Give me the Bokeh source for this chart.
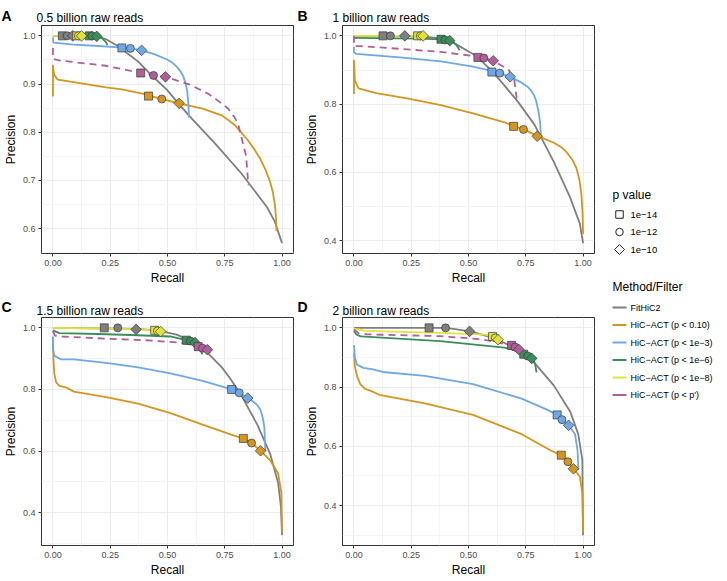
import numpy as np
from bokeh.plotting import figure
from bokeh.layouts import row, column
from bokeh.models import Range1d, FixedTicker, NumeralTickFormatter
from bokeh.embed import file_html
from bokeh.resources import INLINE
from bokeh.core.properties import value

FONT = "Liberation Sans"

# ---------------- labels / ticks ----------------
METHOD_LABELS = ["FitHiC2", "HiC\u2212ACT (p < 0.10)", "HiC\u2212ACT (p < 1e\u22123)",
                 "HiC\u2212ACT (p < 1e\u22126)", "HiC\u2212ACT (p < 1e\u22128)", "HiC\u2212ACT (p < p')"]
PVALUE_LABELS = ["1e\u221214", "1e\u221212", "1e\u221210"]
PANEL_LETTERS = ["A", "B", "C", "D"]
PANEL_TITLES = ["0.5 billion raw reads", "1 billion raw reads", "1.5 billion raw reads", "2 billion raw reads"]
X_TICKS = [0.0, 0.25, 0.5, 0.75, 1.0]
X_MINOR = [0.125, 0.375, 0.625, 0.875]
Y_TICKS_A = [0.6, 0.7, 0.8, 0.9, 1.0]
Y_MINOR_A = [0.55, 0.65, 0.75, 0.85, 0.95]
Y_TICKS_BCD = [0.4, 0.6, 0.8, 1.0]
Y_MINOR_BCD = [0.3, 0.5, 0.7, 0.9]

# ---------------- data: (recall, precision) ----------------
# Panel A
A_FITHIC2 = [(0.0, 1.0), (0.19, 1.0), (0.232, 0.993), (0.287, 0.978), (0.33, 0.962), (0.371, 0.947),
             (0.42, 0.923), (0.498, 0.888), (0.551, 0.858), (0.597, 0.833), (0.709, 0.776), (0.822, 0.715),
             (0.934, 0.645), (0.968, 0.615), (1.0, 0.57)]
A_FITHIC2_PTS = [(0.041, 1.0), (0.062, 1.0), (0.086, 1.0)]
A_P010 = [(0.0, 0.874), (0.0, 0.94), (0.003, 0.925), (0.007, 0.918), (0.021, 0.909), (0.09, 0.904),
          (0.232, 0.893), (0.301, 0.889), (0.40, 0.879), (0.475, 0.869), (0.551, 0.86), (0.653, 0.849),
          (0.737, 0.835), (0.794, 0.815), (0.85, 0.784), (0.88, 0.764), (0.906, 0.744), (0.93, 0.72),
          (0.948, 0.697), (0.96, 0.675), (0.969, 0.649), (0.974, 0.62), (0.976, 0.595)]
A_P010_PTS = [(0.417, 0.875), (0.475, 0.869), (0.551, 0.86)]
A_P1E3 = [(0.0, 0.997), (0.002, 0.986), (0.09, 0.982), (0.20, 0.979), (0.287, 0.976), (0.338, 0.974),
          (0.387, 0.970), (0.442, 0.962), (0.498, 0.951), (0.522, 0.944), (0.54, 0.936), (0.556, 0.927),
          (0.569, 0.916), (0.579, 0.901), (0.586, 0.886), (0.591, 0.86), (0.594, 0.83)]
A_P1E3_PTS = [(0.301, 0.975), (0.338, 0.974), (0.387, 0.970)]
A_P1E6 = [(0.0, 1.0), (0.191, 0.999), (0.215, 0.995), (0.231, 0.987), (0.238, 0.981)]
A_P1E6_PTS = [(0.158, 1.0), (0.17, 1.0), (0.191, 0.999)]
A_P1E8 = [(0.0, 1.0), (0.125, 1.0)]
A_P1E8_PTS = [(0.104, 1.0), (0.111, 1.0), (0.125, 1.0)]
A_PPRIME = [(0.0, 0.975), (0.0, 0.952), (0.027, 0.949), (0.231, 0.938), (0.383, 0.923), (0.439, 0.918),
            (0.491, 0.915), (0.597, 0.899), (0.681, 0.879), (0.73, 0.862), (0.765, 0.849), (0.79, 0.833),
            (0.808, 0.818), (0.822, 0.791), (0.843, 0.751), (0.853, 0.69)]
A_PPRIME_PTS = [(0.383, 0.923), (0.439, 0.918), (0.491, 0.915)]

# Panel B
B_FITHIC2 = [(0.0, 1.0), (0.222, 1.0), (0.309, 0.998), (0.365, 0.993), (0.418, 0.985), (0.46, 0.97),
             (0.52, 0.947), (0.545, 0.935), (0.60, 0.898), (0.65, 0.86), (0.717, 0.806), (0.788, 0.74),
             (0.873, 0.63), (0.944, 0.526), (0.986, 0.45), (1.0, 0.393)]
B_FITHIC2_PTS = [(0.127, 1.0), (0.159, 1.0), (0.222, 1.0)]
B_P010 = [(0.0, 0.83), (0.0, 0.93), (0.004, 0.87), (0.02, 0.846), (0.097, 0.832), (0.238, 0.816),
          (0.379, 0.797), (0.52, 0.773), (0.661, 0.746), (0.697, 0.736), (0.74, 0.726), (0.80, 0.707),
          (0.873, 0.687), (0.905, 0.674), (0.929, 0.659), (0.955, 0.635), (0.972, 0.611), (0.985, 0.575),
          (0.993, 0.535), (0.998, 0.48), (1.0, 0.42)]
B_P010_PTS = [(0.697, 0.735), (0.74, 0.726), (0.80, 0.706)]
B_P1E3 = [(0.0, 0.968), (0.0, 0.952), (0.01, 0.947), (0.2, 0.937), (0.38, 0.925), (0.52, 0.91),
          (0.591, 0.899), (0.636, 0.891), (0.682, 0.88), (0.732, 0.863), (0.758, 0.851), (0.774, 0.839),
          (0.787, 0.825), (0.795, 0.81), (0.805, 0.78), (0.812, 0.75), (0.816, 0.71)]
B_P1E3_PTS = [(0.602, 0.894), (0.636, 0.891), (0.682, 0.88)]
B_P1E6 = [(0.0, 0.994), (0.28, 0.992), (0.38, 0.99), (0.418, 0.987), (0.443, 0.977), (0.455, 0.965),
          (0.461, 0.958)]
B_P1E6_PTS = [(0.38, 0.99), (0.397, 0.988), (0.418, 0.986)]
B_P1E8 = [(0.0, 1.0), (0.302, 1.0)]
B_P1E8_PTS = [(0.278, 1.0), (0.29, 1.0), (0.302, 1.0)]
B_PPRIME = [(0.0, 1.0), (0.0, 0.97), (0.03, 0.97), (0.2, 0.962), (0.38, 0.953), (0.52, 0.941),
            (0.541, 0.937), (0.567, 0.935), (0.608, 0.927), (0.675, 0.901), (0.70, 0.87), (0.706, 0.84),
            (0.712, 0.806)]
B_PPRIME_PTS = [(0.541, 0.937), (0.567, 0.935), (0.608, 0.927)]

# Panel C
C_FITHIC2 = [(0.0, 1.0), (0.364, 0.997), (0.456, 0.992), (0.54, 0.978), (0.582, 0.965), (0.62, 0.95),
             (0.653, 0.935), (0.70, 0.90), (0.737, 0.872), (0.779, 0.83), (0.822, 0.781), (0.892, 0.686),
             (0.948, 0.591), (0.983, 0.496), (0.995, 0.42), (1.0, 0.327)]
C_FITHIC2_PTS = [(0.224, 1.0), (0.283, 1.0), (0.363, 0.995)]
C_P010 = [(0.0, 0.97), (0.002, 0.90), (0.006, 0.85), (0.014, 0.823), (0.028, 0.812), (0.056, 0.807),
          (0.091, 0.793), (0.232, 0.775), (0.372, 0.754), (0.513, 0.723), (0.653, 0.686), (0.794, 0.649),
          (0.831, 0.641), (0.867, 0.626), (0.906, 0.601), (0.948, 0.57), (0.983, 0.527), (0.997, 0.464),
          (1.0, 0.338)]
C_P010_PTS = [(0.831, 0.641), (0.867, 0.626), (0.906, 0.601)]
C_P1E3 = [(0.0, 0.972), (0.0, 0.93), (0.007, 0.909), (0.034, 0.898), (0.091, 0.898), (0.232, 0.886),
          (0.372, 0.872), (0.513, 0.852), (0.653, 0.828), (0.78, 0.80), (0.813, 0.789), (0.85, 0.772),
          (0.875, 0.76), (0.892, 0.749), (0.905, 0.735), (0.913, 0.717), (0.919, 0.695), (0.923, 0.675),
          (0.927, 0.601)]
C_P1E3_PTS = [(0.78, 0.80), (0.813, 0.789), (0.85, 0.772)]
C_P1E6 = [(0.0, 0.992), (0.027, 0.983), (0.2, 0.98), (0.372, 0.976), (0.512, 0.972), (0.554, 0.965),
          (0.582, 0.96), (0.60, 0.957), (0.62, 0.952), (0.635, 0.94), (0.645, 0.925), (0.653, 0.914)]
C_P1E6_PTS = [(0.582, 0.96), (0.60, 0.957), (0.62, 0.952)]
C_P1E8 = [(0.0, 1.0), (0.2, 0.998), (0.35, 0.996), (0.444, 0.992), (0.47, 0.988)]
C_P1E8_PTS = [(0.444, 0.992), (0.456, 0.99), (0.47, 0.988)]
C_PPRIME = [(0.0, 0.99), (0.008, 0.975), (0.04, 0.972), (0.232, 0.965), (0.40, 0.96), (0.54, 0.953),
            (0.60, 0.945), (0.634, 0.939), (0.653, 0.934), (0.674, 0.929), (0.702, 0.909)]
C_PPRIME_PTS = [(0.634, 0.939), (0.653, 0.934), (0.674, 0.929)]

# Panel D
D_FITHIC2 = [(0.0, 1.0), (0.40, 1.0), (0.45, 0.995), (0.505, 0.988), (0.535, 0.982), (0.619, 0.964),
             (0.704, 0.931), (0.788, 0.882), (0.873, 0.805), (0.944, 0.717), (0.979, 0.641), (0.997, 0.553),
             (1.0, 0.30)]
D_FITHIC2_PTS = [(0.328, 1.0), (0.40, 1.0), (0.505, 0.988)]
D_P010 = [(0.0, 0.915), (0.004, 0.87), (0.013, 0.838), (0.027, 0.811), (0.048, 0.794), (0.069, 0.789),
          (0.111, 0.774), (0.309, 0.745), (0.52, 0.706), (0.732, 0.641), (0.859, 0.586), (0.905, 0.57),
          (0.934, 0.548), (0.958, 0.524), (0.986, 0.498), (0.997, 0.44), (1.0, 0.31)]
D_P010_PTS = [(0.905, 0.57), (0.934, 0.548), (0.958, 0.524)]
D_P1E3 = [(0.0, 0.942), (0.004, 0.9), (0.013, 0.876), (0.041, 0.865), (0.083, 0.86), (0.126, 0.851),
          (0.309, 0.838), (0.52, 0.81), (0.732, 0.761), (0.845, 0.723), (0.887, 0.706), (0.908, 0.69),
          (0.937, 0.671), (0.965, 0.641), (0.976, 0.586), (0.98, 0.52)]
D_P1E3_PTS = [(0.887, 0.706), (0.908, 0.69), (0.937, 0.671)]
D_P1E6 = [(0.0, 0.99), (0.01, 0.978), (0.03, 0.971), (0.376, 0.955), (0.657, 0.933), (0.70, 0.925),
          (0.741, 0.911), (0.758, 0.905), (0.776, 0.897), (0.79, 0.88), (0.797, 0.85)]
D_P1E6_PTS = [(0.741, 0.911), (0.758, 0.905), (0.776, 0.897)]
D_P1E8 = [(0.0, 0.997), (0.05, 0.99), (0.376, 0.983), (0.573, 0.977), (0.605, 0.971), (0.617, 0.966),
          (0.629, 0.96)]
D_P1E8_PTS = [(0.605, 0.971), (0.617, 0.966), (0.629, 0.96)]
D_PPRIME = [(0.0, 0.995), (0.02, 0.982), (0.06, 0.978), (0.376, 0.972), (0.55, 0.962), (0.62, 0.952),
            (0.688, 0.941), (0.703, 0.935), (0.72, 0.927)]
D_PPRIME_PTS = [(0.688, 0.941), (0.703, 0.935), (0.72, 0.927)]

# ---------------- styling ----------------
COLORS = ["#7F7F7F", "#D4961E", "#6EA8E6", "#3D8D5A", "#E3E23C", "#B05F9A"]
DASHES = ["solid", "solid", "solid", "solid", "solid", "7 5"]
MARKERS = [("square", 0.0, 8), ("circle", 0.0, 8), ("square", np.pi / 4, 7.5)]

ML, MR, MB = 36, 8, 32
FW, FH = 252, 228
PW = ML + FW + MR
TOP1, TOP2 = 25, 30
LW = 711 - 2 * PW
TOTAL_H = TOP1 + FH + MB + TOP2 + FH + MB

PANEL_LINES = [
    [A_FITHIC2, A_P010, A_P1E3, A_P1E6, A_P1E8, A_PPRIME],
    [B_FITHIC2, B_P010, B_P1E3, B_P1E6, B_P1E8, B_PPRIME],
    [C_FITHIC2, C_P010, C_P1E3, C_P1E6, C_P1E8, C_PPRIME],
    [D_FITHIC2, D_P010, D_P1E3, D_P1E6, D_P1E8, D_PPRIME],
]
PANEL_PTS = [
    [A_FITHIC2_PTS, A_P010_PTS, A_P1E3_PTS, A_P1E6_PTS, A_P1E8_PTS, A_PPRIME_PTS],
    [B_FITHIC2_PTS, B_P010_PTS, B_P1E3_PTS, B_P1E6_PTS, B_P1E8_PTS, B_PPRIME_PTS],
    [C_FITHIC2_PTS, C_P010_PTS, C_P1E3_PTS, C_P1E6_PTS, C_P1E8_PTS, C_PPRIME_PTS],
    [D_FITHIC2_PTS, D_P010_PTS, D_P1E3_PTS, D_P1E6_PTS, D_P1E8_PTS, D_PPRIME_PTS],
]
PANEL_YTICKS = [(Y_TICKS_A, Y_MINOR_A), (Y_TICKS_BCD, Y_MINOR_BCD), (Y_TICKS_BCD, Y_MINOR_BCD),
                (Y_TICKS_BCD, Y_MINOR_BCD)]


def blank(width, height):
    f = figure(width=width, height=height, x_range=Range1d(0, width), y_range=Range1d(height, 0),
               x_axis_location=None, y_axis_location=None, output_backend="svg",
               toolbar_location=None, min_border=0)
    f.grid.visible = False
    f.outline_line_color = None
    f.background_fill_color = "white"
    f.border_fill_color = "white"
    return f


def make_header(idx, top, letter_y, title_y):
    # one header strip spanning two panels of a row
    h = blank(2 * PW, top - 1)
    xs_letter = [k * PW + 1 for k in range(2)]
    xs_title = [k * PW + ML for k in range(2)]
    h.text(x=xs_letter, y=[letter_y] * 2, text=[PANEL_LETTERS[i] for i in idx], text_font=value(FONT),
           text_font_size="14px", text_font_style="bold", text_baseline="alphabetic", text_color="black")
    h.text(x=xs_title, y=[title_y] * 2, text=[PANEL_TITLES[i] for i in idx], text_font=value(FONT),
           text_font_size="12px", text_baseline="alphabetic", text_color="black")
    return h


def make_panel(i):
    lines = PANEL_LINES[i]
    pts = PANEL_PTS[i]
    ys = [p for s in lines for (_, p) in s]
    lo, hi = min(ys), max(ys)
    pad = 0.05 * (hi - lo)
    p = figure(frame_width=FW, frame_height=FH, min_border_left=ML, min_border_right=MR,
               min_border_top=1, min_border_bottom=MB,
               x_range=Range1d(-0.05, 1.05), y_range=Range1d(lo - pad, hi + pad),
               output_backend="svg", toolbar_location=None)
    p.background_fill_color = "white"
    p.border_fill_color = "white"
    p.outline_line_color = "#333333"
    p.outline_line_width = 1
    yt, ym = PANEL_YTICKS[i]
    p.xaxis.ticker = FixedTicker(ticks=X_TICKS, minor_ticks=X_MINOR)
    p.yaxis.ticker = FixedTicker(ticks=yt, minor_ticks=ym)
    p.xaxis.formatter = NumeralTickFormatter(format="0.00")
    p.yaxis.formatter = NumeralTickFormatter(format="0.0")
    p.xaxis.axis_label = "Recall"
    p.yaxis.axis_label = "Precision"
    for ax in (p.xaxis, p.yaxis):
        ax.axis_line_color = None
        ax.major_tick_line_color = "#333333"
        ax.major_tick_out = 3
        ax.major_tick_in = 0
        ax.minor_tick_line_color = None
        ax.major_label_text_font = FONT
        ax.major_label_text_font_size = "9px"
        ax.major_label_text_color = "#4D4D4D"
        ax.major_label_standoff = 2
        ax.axis_label_text_font = FONT
        ax.axis_label_text_font_size = "12px"
        ax.axis_label_text_font_style = "normal"
        ax.axis_label_text_color = "black"
        ax.axis_label_standoff = 2
    for g in (p.xgrid, p.ygrid):
        g.grid_line_color = "#EBEBEB"
        g.grid_line_width = 1
        g.minor_grid_line_color = "#F4F4F4"
        g.minor_grid_line_width = 1

    for k, s in enumerate(lines):
        p.line([r for r, _ in s], [q for _, q in s], line_color=COLORS[k], line_width=1.8,
               line_dash=DASHES[k])
    for k, s in enumerate(pts):
        for j, (mk, ang, sz) in enumerate(MARKERS):
            p.scatter([s[j][0]], [s[j][1]], marker=mk, angle=ang, size=sz, fill_color=COLORS[k],
                      line_color="#3A3A3A", line_width=0.7)
    return p


h1 = make_header([0, 1], TOP1, 15, 17)
h2 = make_header([2, 3], TOP2, 19, 23)
pa, pb, pc, pd = make_panel(0), make_panel(1), make_panel(2), make_panel(3)

# ---------------- legend panel ----------------
leg = blank(LW, TOTAL_H)
LX_TITLE, LX_KEY, LX_LABEL = 10, 17, 28
PV_TITLE_Y = 194
PV_ROW0, ROW_STEP = 214, 17.5
MF_TITLE_Y = 286
MF_ROW0 = 307
leg.text(x=[LX_TITLE, LX_TITLE], y=[PV_TITLE_Y, MF_TITLE_Y], text=["p value", "Method/Filter"],
         text_font=value(FONT), text_font_size="12px", text_baseline="middle", text_color="black")
for j, (mk, ang, sz) in enumerate(MARKERS):
    yy = PV_ROW0 + j * ROW_STEP
    leg.scatter([LX_KEY], [yy], marker=mk, angle=ang, size=sz - 0.5, fill_color=None,
                line_color="#222222", line_width=1)
leg.text(x=[LX_LABEL] * 3, y=[PV_ROW0 + j * ROW_STEP for j in range(3)], text=PVALUE_LABELS,
         text_font=value(FONT), text_font_size="9.5px", text_baseline="middle", text_color="black")
for k in range(len(METHOD_LABELS)):
    yy = MF_ROW0 + k * ROW_STEP
    leg.segment(x0=[LX_KEY - 7], y0=[yy], x1=[LX_KEY + 7], y1=[yy], line_color=COLORS[k], line_width=2)
leg.text(x=[LX_LABEL] * 6, y=[MF_ROW0 + k * ROW_STEP for k in range(6)], text=METHOD_LABELS,
         text_font=value(FONT), text_font_size="9px", text_baseline="middle", text_color="black")

layout = row(column(h1, row(pa, pb), h2, row(pc, pd)), leg)

open("out.html", "w").write(file_html(layout, INLINE))
